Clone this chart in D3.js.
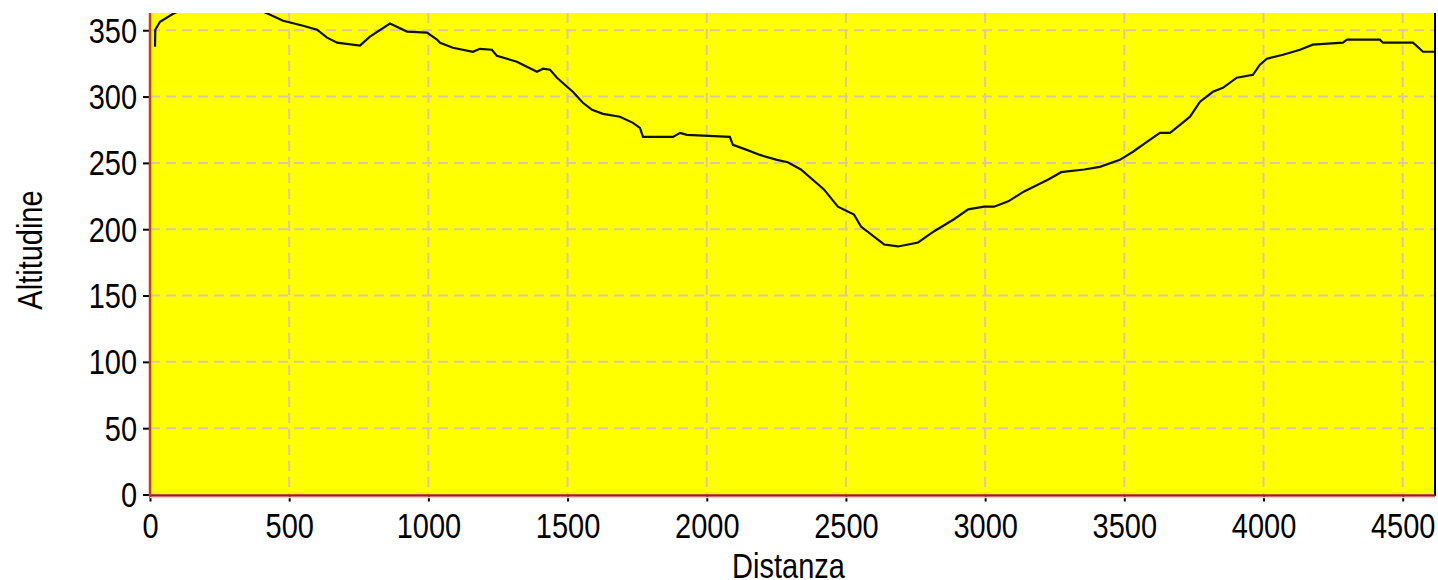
<!DOCTYPE html>
<html><head><meta charset="utf-8">
<script src="https://cdn.jsdelivr.net/npm/d3@7"></script>
<style>html,body{margin:0;padding:0;background:#fff;}svg{display:block;}</style>
</head><body>
<script>
// Data (distance in m, altitude in m)
const distanza = [18, 19, 36, 83, 180, 300, 424, 478, 550, 600, 636, 672, 754, 790, 862, 923, 995, 1031, 1042, 1088, 1160, 1185, 1228, 1246, 1318, 1390, 1412, 1437, 1462, 1498, 1519, 1555, 1588, 1627, 1688, 1735, 1760, 1771, 1879, 1904, 1929, 2083, 2094, 2144, 2191, 2252, 2291, 2338, 2421, 2471, 2529, 2554, 2637, 2687, 2759, 2817, 2888, 2939, 2996, 3032, 3083, 3140, 3227, 3273, 3356, 3412, 3484, 3531, 3581, 3628, 3664, 3700, 3736, 3772, 3818, 3854, 3904, 3962, 3987, 4012, 4070, 4131, 4177, 4285, 4300, 4418, 4429, 4537, 4573, 4616];
const altitudine = [337.6, 350.4, 356.4, 362.4, 372, 374, 362.4, 357.1, 353.4, 350.4, 344.4, 340.6, 338.4, 345.2, 355, 349, 348.2, 343, 340.6, 336.8, 333.8, 336, 335.3, 330.8, 326.3, 318.7, 321, 320.2, 314.2, 307.4, 303.6, 295.3, 290, 287, 284.8, 280.2, 276.4, 269.6, 269.6, 272.6, 271.1, 269.6, 263.6, 259.8, 256, 252.3, 250.5, 245, 230, 217, 211, 202, 188.5, 187, 190, 198.5, 207.5, 215, 217, 217, 221, 228.5, 237.5, 243, 245, 247, 252.3, 258.4, 265.9, 272.7, 272.7, 278.7, 284.8, 296.1, 303.6, 306.6, 314.2, 316.4, 324, 328.5, 331.5, 335.3, 339.1, 340.6, 342.9, 342.9, 340.6, 340.6, 333.8, 333.8];
const xTicks = [0, 500, 1000, 1500, 2000, 2500, 3000, 3500, 4000, 4500];
const yTicks = [0, 50, 100, 150, 200, 250, 300, 350];
const xDomain = [0, 4616];
const yDomain = [0, 363];
const xTitle = "Distanza";
const yTitle = "Altitudine";

const W = 1438, H = 580;
const m = {left: 150, right: 3, top: 13, bottom: 85.5};
const iw = W - m.left - m.right, ih = H - m.top - m.bottom;

const svg = d3.select("body").append("svg").attr("width", W).attr("height", H);
const x = d3.scaleLinear().domain(xDomain).range([0, iw]);
const y = d3.scaleLinear().domain(yDomain).range([ih, 0]);

const g = svg.append("g").attr("transform", `translate(${m.left},${m.top})`);
const FONT = "'Liberation Sans', Arial, sans-serif";
const FS = 29, SY = 1.2;

// plot background
g.append("rect").attr("x", 0).attr("y", 0).attr("width", iw).attr("height", ih).attr("fill", "#ffff00");

// grid
g.append("g").selectAll("line").data(xTicks.filter(d => d > 0)).join("line")
  .attr("x1", d => x(d)).attr("x2", d => x(d)).attr("y1", 0).attr("y2", ih)
  .attr("stroke", "#ddc7a0").attr("stroke-width", 2).attr("stroke-dasharray", "10,6");
g.append("g").selectAll("line").data(yTicks.filter(d => d > 0)).join("line")
  .attr("x1", 0).attr("x2", iw).attr("y1", d => y(d)).attr("y2", d => y(d))
  .attr("stroke", "#ddc7a0").attr("stroke-width", 2).attr("stroke-dasharray", "10,6");

// clip & line
svg.append("defs").append("clipPath").attr("id", "clip").append("rect")
  .attr("x", 0).attr("y", 0).attr("width", iw).attr("height", ih);
const pts = distanza.map((d, i) => [d, altitudine[i]]);
g.append("path").datum(pts).attr("clip-path", "url(#clip)")
  .attr("fill", "none").attr("stroke", "#111").attr("stroke-width", 2.2)
  .attr("d", d3.line().x(d => x(d[0])).y(d => y(d[1])));

// right border
g.append("line").attr("x1", iw).attr("x2", iw).attr("y1", 0).attr("y2", ih + 1.5)
  .attr("stroke", "#000").attr("stroke-width", 2);

// axes
const xAxis = g.append("g").attr("transform", `translate(0,${ih})`)
  .call(d3.axisBottom(x).tickValues(xTicks).tickSize(7).tickSizeOuter(0).tickFormat(d3.format("d")));
xAxis.select(".domain").remove();
xAxis.selectAll(".tick line").attr("stroke", "#000").attr("stroke-width", 2).attr("y1", 1);
xAxis.selectAll(".tick text").attr("dy", null).attr("y", 43.5 / SY)
  .attr("transform", `scale(1,${SY})`)
  .attr("font-family", FONT).attr("font-size", FS).attr("fill", "#000");

const yAxis = g.append("g")
  .call(d3.axisLeft(y).tickValues(yTicks).tickSize(7).tickSizeOuter(0).tickFormat(d3.format("d")));
yAxis.select(".domain").remove();
yAxis.selectAll(".tick line").attr("stroke", "#000").attr("stroke-width", 2);
yAxis.selectAll(".tick text").attr("dy", null).attr("x", -13).attr("y", 12 / SY)
  .attr("transform", `scale(1,${SY})`)
  .attr("font-family", FONT).attr("font-size", FS).attr("fill", "#000");

// axis lines
g.append("line").attr("x1", 0).attr("x2", iw).attr("y1", ih + 1).attr("y2", ih + 1)
  .attr("stroke", "#a81818").attr("stroke-width", 2.5);
g.append("line").attr("x1", 0).attr("x2", iw).attr("y1", ih + 3).attr("y2", ih + 3)
  .attr("stroke", "#f6d0d0").attr("stroke-width", 1.5);
g.append("line").attr("x1", 0).attr("x2", 0).attr("y1", 0).attr("y2", ih + 2)
  .attr("stroke", "#c84010").attr("stroke-width", 2.5);

// titles
svg.append("text").attr("transform", `translate(${m.left + iw / 2 - 4},578) scale(1,${SY})`)
  .attr("text-anchor", "middle").attr("font-family", FONT).attr("font-size", FS).attr("fill", "#000")
  .text(xTitle);
svg.append("text").attr("transform", `translate(42,250) rotate(-90) scale(1,${SY})`)
  .attr("text-anchor", "middle").attr("font-family", FONT).attr("font-size", FS).attr("fill", "#000")
  .text(yTitle);
</script>
</body></html>
